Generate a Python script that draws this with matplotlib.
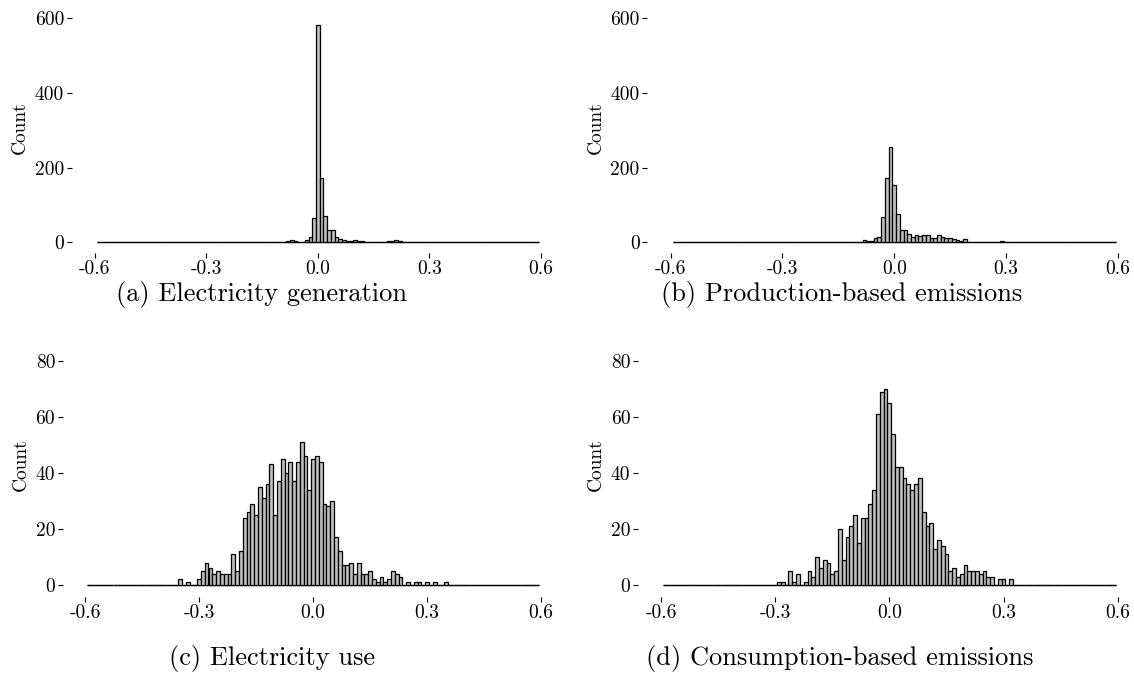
import numpy as np
import matplotlib
matplotlib.use("Agg")
import matplotlib.pyplot as plt

plt.rcParams['font.family'] = ['cmr10', 'DejaVu Serif']

# histogram bins: width 0.01, centred on multiples of 0.01
bin_edges = np.round(np.arange(-0.595, 0.6, 0.01), 3)
bin_centers = np.round((bin_edges[:-1] + bin_edges[1:]) / 2, 2)

# counts, first value belongs to the bin centred at *_start
gen_start = -0.20
gen_counts = [1, 0, 0, 1, 0, 1, 2, 0, 1, 2, 2, 1, 4, 5, 3, 1, 1, 5, 13, 65,
              583, 171, 70, 34, 32, 13, 9, 7, 4, 3, 6, 4, 3, 2, 2, 1, 1, 2, 2, 3,
              4, 6, 3, 1, 1, 0, 1, 0, 1, 0, 0, 0, 1, 0, 0, 1]

prod_start = -0.13
prod_counts = [1, 0, 1, 1, 2, 6, 4, 4, 12, 15, 69, 171, 255, 153, 75, 32, 34, 21,
               15, 20, 17, 20, 20, 11, 12, 20, 14, 12, 12, 10, 7, 3, 8, 2, 1, 0,
               1, 0, 0, 0, 0, 1, 3, 1]

use_start = -0.35
use_counts = [2, 0, 1, 0, 0, 2, 5, 8, 6, 4, 5, 4, 4, 4, 11, 5, 12, 24, 26, 29,
              25, 35, 31, 36, 43, 25, 37, 45, 40, 44, 37, 44, 51, 46, 34, 45, 46,
              44, 29, 28, 30, 17, 12, 7, 7, 8, 4, 8, 4, 4, 5, 2, 1, 3, 1, 2, 5, 4,
              3, 0, 1, 0, 1, 1, 0, 1, 0, 1, 0, 0, 1]

cons_start = -0.29
cons_counts = [1, 1, 0, 5, 1, 4, 0, 1, 5, 3, 10, 6, 9, 8, 4, 5, 20, 9, 17, 21,
               25, 15, 24, 24, 29, 34, 61, 69, 70, 65, 54, 42, 42, 38, 36, 34, 36,
               38, 26, 21, 22, 13, 16, 14, 11, 5, 6, 3, 4, 7, 5, 5, 5, 4, 5, 3, 3,
               0, 2, 2, 0, 2]

captions = ["(a) Electricity generation", "(b) Production-based emissions",
            "(c) Electricity use", "(d) Consumption-based emissions"]
x_ticks = [-0.6, -0.3, 0.0, 0.3, 0.6]
x_ticklabels = ["-0.6", "-0.3", "0.0", "0.3", "0.6"]
top_yticks = [0, 200, 400, 600]
bottom_yticks = [0, 20, 40, 60, 80]

W, H = 1134, 676
fig = plt.figure(figsize=(W / 100, H / 100), dpi=100)

XLIM = (-0.655, 0.655)


def full_counts(start, counts):
    arr = np.zeros(len(bin_centers))
    i0 = int(round((start - bin_centers[0]) / 0.01))
    arr[i0:i0 + len(counts)] = counts
    return arr


def make_axes(xm06, xp06, y0, ytick_val, ytick_px, ytop, left_out, bottom_out):
    # place axes from pixel positions of x=-0.6, x=0.6, y=0 and a y tick
    sx = (xp06 - xm06) / 1.2
    sy = (y0 - ytick_px) / ytick_val
    left = xm06 + (XLIM[0] + 0.6) * sx
    right = xp06 + (XLIM[1] - 0.6) * sx
    top = y0 - ytop * sy
    ax = fig.add_axes([left / W, 1 - y0 / H, (right - left) / W, (y0 - top) / H])
    ax.set_xlim(*XLIM)
    ax.set_ylim(0, ytop)
    for s in ax.spines.values():
        s.set_visible(False)
    ax.spines['left'].set_position(('outward', left_out))
    ax.spines['bottom'].set_position(('outward', bottom_out))
    return ax


panels = [
    (gen_start, gen_counts, (94.7, 541.0, 242.3, 600, 18.3, 612, 1.8, 7.7), top_yticks),
    (prod_start, prod_counts, (670.7, 1117.7, 242.3, 600, 18.3, 612, 2.2, 7.7), top_yticks),
    (use_start, use_counts, (85.0, 541.0, 585.0, 80, 360.7, 86, 1.0, 8.6), bottom_yticks),
    (cons_start, cons_counts, (661.0, 1117.7, 585.0, 80, 360.7, 86, 1.5, 8.6), bottom_yticks),
]
caption_pos = [(261, 294), (842, 294), (272, 658), (840, 658)]

for (start, counts, geom, yt), cap, (cx, cy) in zip(panels, captions, caption_pos):
    ax = make_axes(*geom)
    # empty bins show as a flat line along zero
    ax.hlines(0, bin_edges[0], bin_edges[-1], color='0.3', linewidth=1.0,
              zorder=1, clip_on=False)
    _, _, patches = ax.hist(bin_centers, bins=bin_edges,
                            weights=full_counts(start, counts),
                            color='#bebebe', edgecolor='black', linewidth=0.9,
                            zorder=2)
    for p in patches:
        p.set_clip_on(False)
    ax.set_xticks(x_ticks)
    ax.set_xticklabels(x_ticklabels)
    ax.set_yticks(yt)
    ax.set_yticklabels([str(v) for v in yt])
    ax.tick_params(direction='out', length=3.4, width=0.8, labelsize=14, pad=2)
    ax.set_ylabel("Count", fontsize=14, labelpad=4)
    fig.text(cx / W, 1 - cy / H, cap, fontsize=19, ha='center', va='center')

fig.savefig("out.png", dpi=100)
